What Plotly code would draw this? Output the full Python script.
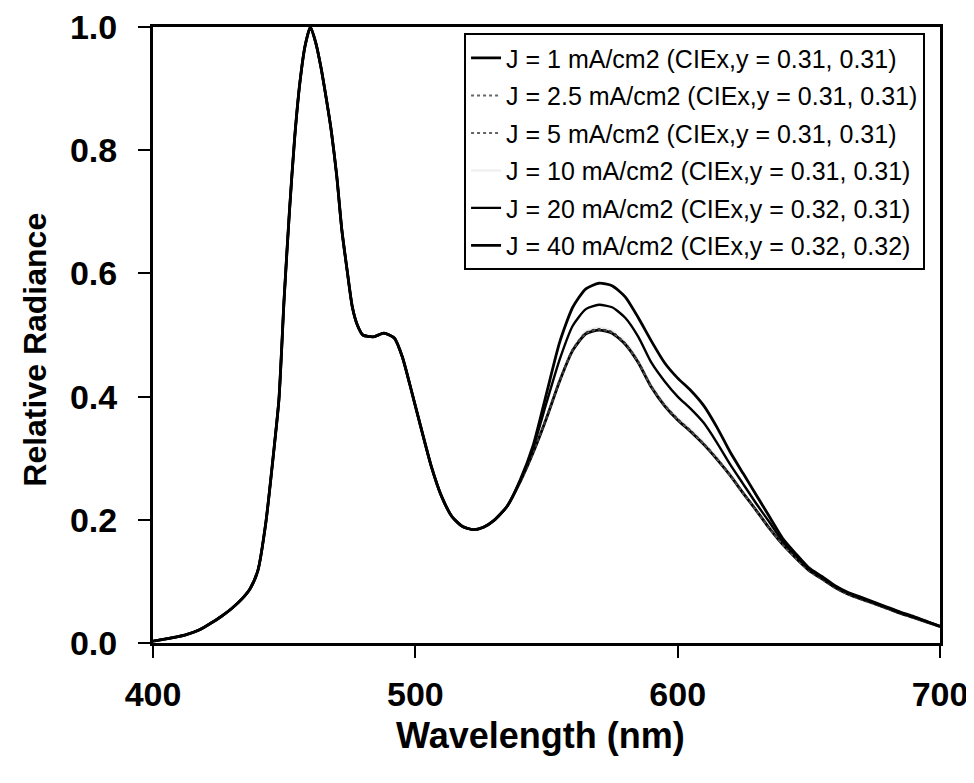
import plotly.graph_objects as go

# Wavelength grid (nm)
wavelength = [400, 404, 408, 413, 418, 422, 426, 430, 434, 437, 440, 443, 446, 448, 450,
              452, 454, 456, 458, 460, 462, 464, 466, 468, 470, 472, 474, 476, 478, 480,
              484, 488, 492, 495, 498, 502, 506, 510, 514, 518, 522, 526, 530, 535, 540,
              545, 550, 555, 560, 565, 570, 575, 580, 585, 590, 595, 600, 605, 610, 615,
              620, 625, 630, 635, 640, 645, 650, 655, 660, 665, 670, 675, 680, 685, 690,
              695, 700]

# Relative radiance per current density
j1 = [0.003, 0.006, 0.009, 0.014, 0.022, 0.032, 0.043, 0.056, 0.072, 0.088, 0.118, 0.195, 0.310, 0.395, 0.560,
      0.700, 0.820, 0.910, 0.970, 1.000, 0.975, 0.935, 0.885, 0.830, 0.760, 0.670, 0.605, 0.545, 0.515, 0.500,
      0.497, 0.503, 0.495, 0.465, 0.418, 0.352, 0.288, 0.238, 0.205, 0.189, 0.184, 0.188, 0.199, 0.222, 0.262,
      0.310, 0.365, 0.425, 0.475, 0.502, 0.508, 0.503, 0.485, 0.455, 0.415, 0.385, 0.362, 0.343, 0.322, 0.298,
      0.272, 0.243, 0.215, 0.186, 0.160, 0.138, 0.118, 0.104, 0.090, 0.079, 0.071, 0.064, 0.056, 0.048, 0.041,
      0.034, 0.027]
j2_5 = [0.003, 0.006, 0.009, 0.014, 0.022, 0.032, 0.043, 0.056, 0.072, 0.088, 0.118, 0.195, 0.310, 0.395, 0.560,
        0.700, 0.820, 0.910, 0.970, 1.000, 0.975, 0.935, 0.885, 0.830, 0.760, 0.670, 0.605, 0.545, 0.515, 0.500,
        0.497, 0.503, 0.495, 0.465, 0.418, 0.352, 0.288, 0.238, 0.205, 0.189, 0.184, 0.188, 0.199, 0.222, 0.262,
        0.311, 0.366, 0.426, 0.476, 0.503, 0.509, 0.504, 0.486, 0.456, 0.416, 0.386, 0.363, 0.344, 0.323, 0.299,
        0.272, 0.243, 0.215, 0.186, 0.160, 0.138, 0.118, 0.104, 0.090, 0.079, 0.071, 0.064, 0.056, 0.048, 0.041,
        0.034, 0.027]
j5 = [0.003, 0.006, 0.009, 0.014, 0.022, 0.032, 0.043, 0.056, 0.072, 0.088, 0.118, 0.195, 0.310, 0.395, 0.560,
      0.700, 0.820, 0.910, 0.970, 1.000, 0.975, 0.935, 0.885, 0.830, 0.760, 0.670, 0.605, 0.545, 0.515, 0.500,
      0.497, 0.503, 0.495, 0.465, 0.418, 0.352, 0.288, 0.238, 0.205, 0.189, 0.184, 0.188, 0.199, 0.222, 0.262,
      0.311, 0.367, 0.427, 0.477, 0.504, 0.510, 0.505, 0.487, 0.457, 0.417, 0.387, 0.364, 0.345, 0.324, 0.300,
      0.273, 0.244, 0.216, 0.187, 0.161, 0.139, 0.119, 0.104, 0.090, 0.079, 0.071, 0.064, 0.056, 0.048, 0.041,
      0.034, 0.027]
j10 = [0.003, 0.006, 0.009, 0.014, 0.022, 0.032, 0.043, 0.056, 0.072, 0.088, 0.118, 0.195, 0.310, 0.395, 0.560,
       0.700, 0.820, 0.910, 0.970, 1.000, 0.975, 0.935, 0.885, 0.830, 0.760, 0.670, 0.605, 0.545, 0.515, 0.500,
       0.497, 0.503, 0.495, 0.465, 0.418, 0.352, 0.288, 0.238, 0.205, 0.189, 0.184, 0.188, 0.199, 0.222, 0.262,
       0.312, 0.368, 0.429, 0.479, 0.506, 0.512, 0.507, 0.489, 0.459, 0.419, 0.389, 0.366, 0.347, 0.326, 0.302,
       0.275, 0.245, 0.217, 0.188, 0.162, 0.139, 0.119, 0.105, 0.091, 0.080, 0.072, 0.064, 0.056, 0.048, 0.041,
       0.034, 0.027]
j20 = [0.003, 0.006, 0.009, 0.014, 0.022, 0.032, 0.043, 0.056, 0.072, 0.088, 0.118, 0.195, 0.310, 0.395, 0.560,
       0.700, 0.820, 0.910, 0.970, 1.000, 0.975, 0.935, 0.885, 0.830, 0.760, 0.670, 0.605, 0.545, 0.515, 0.500,
       0.497, 0.503, 0.495, 0.465, 0.418, 0.352, 0.288, 0.238, 0.205, 0.189, 0.184, 0.188, 0.199, 0.222, 0.264,
       0.318, 0.390, 0.460, 0.515, 0.542, 0.549, 0.545, 0.528, 0.497, 0.455, 0.425, 0.400, 0.380, 0.357, 0.325,
       0.290, 0.258, 0.226, 0.196, 0.165, 0.142, 0.120, 0.106, 0.092, 0.081, 0.073, 0.065, 0.057, 0.049, 0.042,
       0.035, 0.027]
j40 = [0.003, 0.006, 0.009, 0.014, 0.022, 0.032, 0.043, 0.056, 0.072, 0.088, 0.118, 0.195, 0.310, 0.395, 0.560,
       0.700, 0.820, 0.910, 0.970, 1.000, 0.975, 0.935, 0.885, 0.830, 0.760, 0.670, 0.605, 0.545, 0.515, 0.500,
       0.497, 0.503, 0.495, 0.465, 0.418, 0.352, 0.288, 0.238, 0.205, 0.189, 0.184, 0.188, 0.199, 0.222, 0.265,
       0.322, 0.405, 0.488, 0.545, 0.575, 0.584, 0.580, 0.562, 0.528, 0.490, 0.455, 0.430, 0.410, 0.385, 0.350,
       0.310, 0.275, 0.240, 0.205, 0.170, 0.145, 0.122, 0.108, 0.093, 0.082, 0.074, 0.066, 0.058, 0.050, 0.043,
       0.035, 0.027]

series_names = [
    "J = 1 mA/cm2 (CIEx,y = 0.31, 0.31)",
    "J = 2.5 mA/cm2 (CIEx,y = 0.31, 0.31)",
    "J = 5 mA/cm2 (CIEx,y = 0.31, 0.31)",
    "J = 10 mA/cm2 (CIEx,y = 0.31, 0.31)",
    "J = 20 mA/cm2 (CIEx,y = 0.32, 0.31)",
    "J = 40 mA/cm2 (CIEx,y = 0.32, 0.32)",
]
series_values = [j1, j2_5, j5, j10, j20, j40]

x_ticks = [400, 500, 600, 700]
y_ticks = [0.0, 0.2, 0.4, 0.6, 0.8, 1.0]

x_title = "Wavelength (nm)"
y_title = "Relative Radiance"

# styles (draw order: J=10 first so the faint line sits underneath)
styles = {
    0: dict(color="black", width=2.8, dash="solid"),
    1: dict(color="#666666", width=2, dash="dot"),
    2: dict(color="#333333", width=1.5, dash="dot"),
    3: dict(color="#eeeeee", width=2, dash="solid"),
    4: dict(color="black", width=2.4, dash="solid"),
    5: dict(color="black", width=2.8, dash="solid"),
}
draw_order = [3, 0, 1, 2, 4, 5]

fig = go.Figure()
for i in draw_order:
    fig.add_trace(go.Scatter(
        x=wavelength, y=series_values[i], mode="lines", name=series_names[i],
        line=dict(shape="spline", smoothing=0.6, **styles[i]),
        legendgroup=f"g{i}", legendrank=i + 1,
    ))

font_family = "Liberation Sans, Arial, sans-serif"

fig.update_layout(
    width=966, height=775,
    margin=dict(l=145, r=34, t=19, b=140, pad=0, autoexpand=False),
    paper_bgcolor="white", plot_bgcolor="white",
    font=dict(family=font_family, color="black"),
    showlegend=True,
    legend=dict(
        x=0.981, y=0.99, xanchor="right", yanchor="top",
        bordercolor="black", borderwidth=2, bgcolor="white",
        font=dict(size=25, family=font_family, color="black"),
        tracegroupgap=2, traceorder="grouped",
    ),
    xaxis=dict(
        range=[400, 700], tickvals=x_ticks, ticktext=[str(v) for v in x_ticks],
        showgrid=False, zeroline=False, automargin=False,
        showline=True, linecolor="black", linewidth=3, mirror=True,
        ticks="outside", ticklen=12, tickwidth=2, tickcolor="black",
        ticklabelstandoff=7, ticklabeloverflow="allow",
        tickfont=dict(size=34, family=font_family, weight="bold"),
    ),
    yaxis=dict(
        range=[0, 1.0], tickvals=y_ticks, ticktext=[f"{v:.1f}" for v in y_ticks],
        showgrid=False, zeroline=False, automargin=False,
        showline=True, linecolor="black", linewidth=3, mirror=True,
        ticks="outside", ticklen=12, tickwidth=2, tickcolor="black",
        ticklabelstandoff=14, ticklabeloverflow="allow",
        tickfont=dict(size=34, family=font_family, weight="bold"),
    ),
    annotations=[
        dict(text=y_title, textangle=-90, showarrow=False,
             xref="paper", yref="paper", x=-0.150, y=0.476,
             xanchor="center", yanchor="middle",
             font=dict(size=32, family=font_family, weight="bold", color="black")),
        dict(text=x_title, showarrow=False,
             xref="paper", yref="paper", x=0.492, y=-0.150,
             xanchor="center", yanchor="middle",
             font=dict(size=36, family=font_family, weight="bold", color="black")),
    ],
)

fig.write_html("out.html")
